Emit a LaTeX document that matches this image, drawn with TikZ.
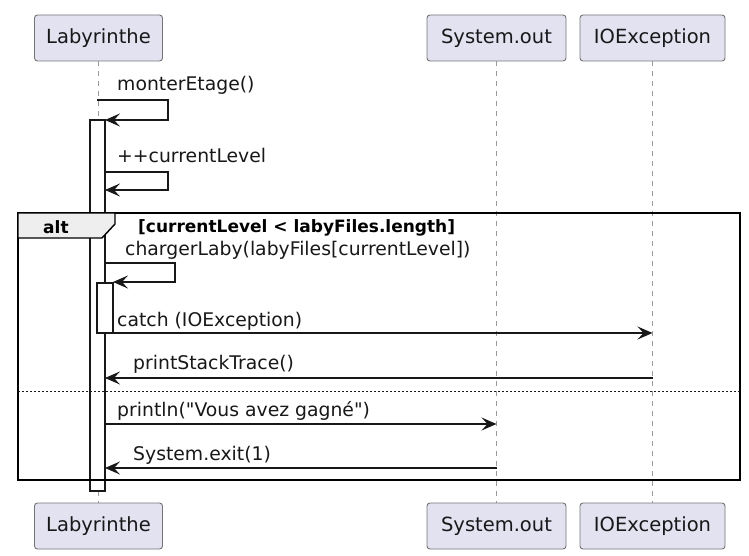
\documentclass[tikz,border=0pt]{standalone}
\usepackage{fontspec}
\setmainfont{DejaVu Sans}
\usepackage{xcolor}
\usetikzlibrary{arrows.meta}

\definecolor{partfill}{HTML}{E2E2F0}
\definecolor{partline}{HTML}{181818}
\definecolor{tabfill}{HTML}{EEEEEE}

\begin{document}
\begin{tikzpicture}[x=1pt, y=-1pt,
    part/.style={draw=partline!60, fill=partfill, rounded corners=3pt, line width=0.9pt,
      minimum height=46pt, inner sep=0pt, text=partline, font=\fontsize{19.5}{22}\selectfont},
    life/.style={draw=gray!80, dash pattern=on 5pt off 5pt, line width=0.9pt},
    act/.style={draw=partline, fill=white, line width=1.1pt},
    msg/.style={draw=partline, line width=1.2pt, -{Stealth[length=15pt, width=13pt, inset=6pt]}},
    lbl/.style={anchor=base west, inner sep=0pt, text=partline, font=\fontsize{18.8}{22}\selectfont},
    frm/.style={draw=black, line width=1.8pt},
    grd/.style={anchor=base west, inner sep=0pt, text=black, font=\bfseries\fontsize{17}{20}\selectfont}]
        \useasboundingbox (0,0) rectangle (749,556);

        % Participants (top and bottom)
        \node[part, minimum width=128pt] (lab)  at (98.5,38)  {Labyrinthe};
        \node[part, minimum width=139pt] (sout) at (496.5,38) {System.out};
        \node[part, minimum width=145pt] (ioe)  at (652.5,38) {IOException};
        \node[part, minimum width=128pt] (labB)  at (98.5,526)  {Labyrinthe};
        \node[part, minimum width=139pt] (soutB) at (496.5,526) {System.out};
        \node[part, minimum width=145pt] (ioeB)  at (652.5,526) {IOException};

        % Lifelines
        \draw[life] (lab.south) -- (labB.north);
        \draw[life] (sout.south) -- (soutB.north);
        \draw[life] (ioe.south) -- (ioeB.north);

        % Activations
        \draw[act] (90,120) rectangle (105,491);
        \draw[act] (97,283) rectangle (113,333);

        % alt frame
        \draw[frm] (18,213) rectangle (740,480);
        \filldraw[frm, fill=tabfill, line width=1.4pt] (18,213) -- (115,213) -- (115,224) -- (102,238) -- (18,238) -- cycle;
        \node[grd] (alt) at (43,233) {alt};
        \node[grd] (guard) at (138,232) {[currentLevel < labyFiles.length]};
        \draw[draw=partline, line width=1pt, dash pattern=on 2pt off 2pt] (18,391) -- (740,391);

        % Message end points
        \coordinate (m1a) at (97,100);   \coordinate (m1b) at (105,120);
        \coordinate (m2a) at (105,172);  \coordinate (m2b) at (105,190);
        \coordinate (m3a) at (105,263);  \coordinate (m3b) at (113,282);
        \coordinate (m4a) at (113,333);  \coordinate (m4b) at (652.5,333);
        \coordinate (m5a) at (652.5,378); \coordinate (m5b) at (105,378);
        \coordinate (m6a) at (105,424);  \coordinate (m6b) at (496.5,424);
        \coordinate (m7a) at (496.5,468); \coordinate (m7b) at (105,468);

        % Messages
        \draw[msg] (m1a) -- ++(71,0) |- (m1b);
        \node[lbl] (t1) at (117,91) {monterEtage()};
        \draw[msg] (m2a) -- ++(63,0) |- (m2b);
        \node[lbl] (t2) at (117,163) {++currentLevel};
        \draw[msg] (m3a) -- ++(70,0) |- (m3b);
        \node[lbl] (t3) at (125,255) {chargerLaby(labyFiles[currentLevel])};
        \draw[msg] (m4a) -- (m4b);
        \node[lbl] (t4) at (117,326) {catch (IOException)};
        \draw[msg] (m5a) -- (m5b);
        \node[lbl] (t5) at (133,369) {printStackTrace()};
        \draw[msg] (m6a) -- (m6b);
        \node[lbl] (t6) at (117,416) {println(\textquotedbl Vous avez gagné\textquotedbl)};
        \draw[msg] (m7a) -- (m7b);
        \node[lbl] (t7) at (133,460) {System.exit(1)};
    \end{tikzpicture}
\end{document}
